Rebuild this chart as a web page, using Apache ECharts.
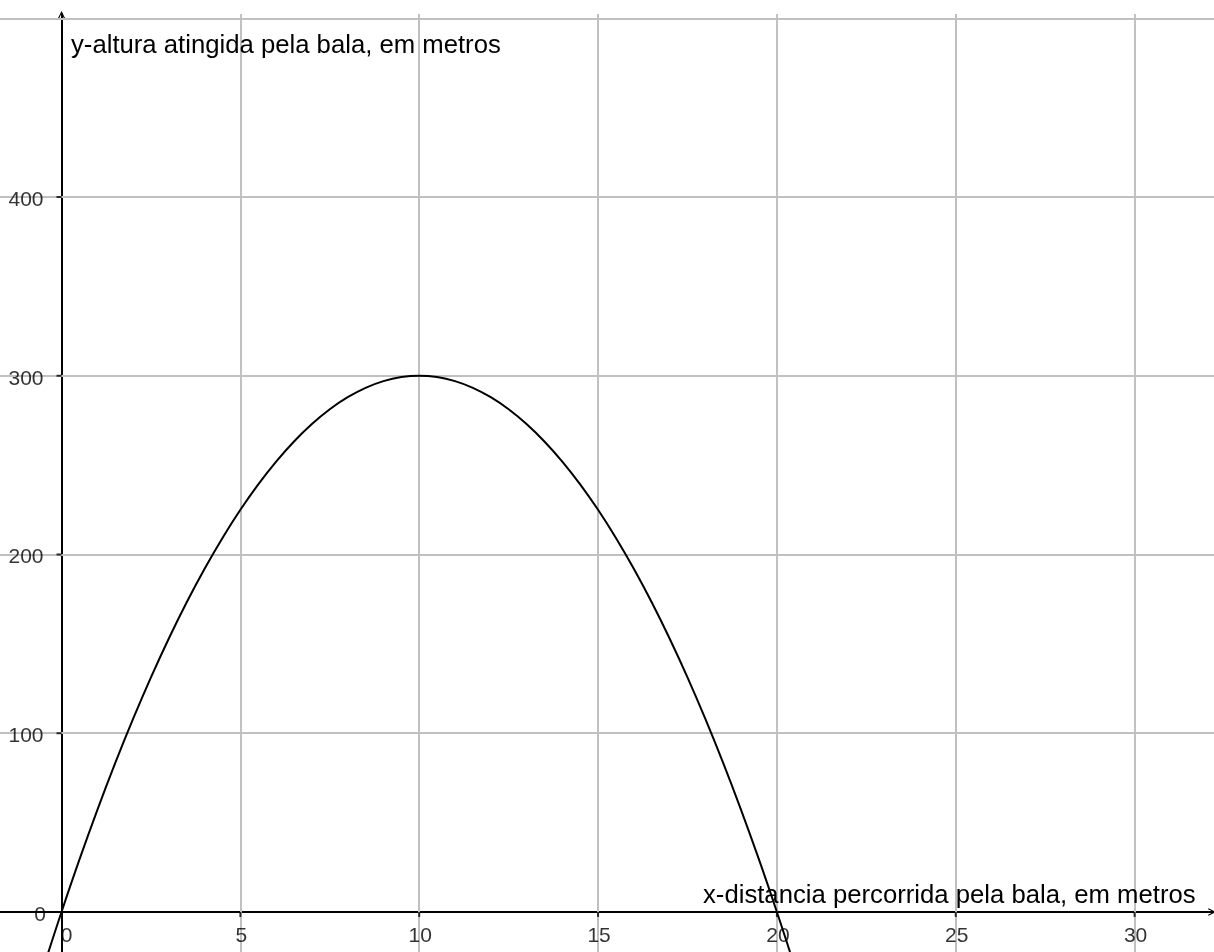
<!DOCTYPE html>
<html>
<head>
<meta charset="utf-8">
<script src="https://cdn.jsdelivr.net/npm/echarts@6/dist/echarts.min.js"></script>
<style>html,body{margin:0;padding:0;background:#fff}#c{width:1214px;height:952px}</style>
</head>
<body>
<div id="c"></div>
<script>
// Data
const xValues = [-0.4, 0, 0.5, 1, 1.5, 2, 2.5, 3, 3.5, 4, 4.5, 5, 5.5, 6, 6.5, 7, 7.5, 8, 8.5, 9, 9.5, 10,
  10.5, 11, 11.5, 12, 12.5, 13, 13.5, 14, 14.5, 15, 15.5, 16, 16.5, 17, 17.5, 18, 18.5, 19, 19.5, 20, 20.4];
const yValues = [-24.5, 0, 29.25, 57, 83.25, 108, 131.25, 153, 173.25, 192, 209.25, 225, 239.25, 252, 263.25, 273, 281.25, 288, 293.25, 297, 299.25, 300,
  299.25, 297, 293.25, 288, 281.25, 273, 263.25, 252, 239.25, 225, 209.25, 192, 173.25, 153, 131.25, 108, 83.25, 57, 29.25, 0, -24.5];
const xTicks = [0, 5, 10, 15, 20, 25, 30];
const yTicks = [0, 100, 200, 300, 400];
const xGrid = [5, 10, 15, 20, 25, 30];
const yGrid = [100, 200, 300, 400, 500];
const xLabelText = 'x-distancia percorrida pela bala, em metros';
const yLabelText = 'y-altura atingida pela bala, em metros';

const FONT = '"Liberation Sans", Arial, sans-serif';
const chart = echarts.init(document.getElementById('c'), null, {renderer: 'canvas'});
const curve = xValues.map((x, i) => [x, yValues[i]]);
const gridLineStyle = {color: '#c0c0c0', width: 2, type: 'solid'};
const chevron = 'path://M0,10 L5,0 L10,10 L8.6,10.8 L5,3.2 L1.4,10.8 Z';

chart.setOption({
  animation: false,
  backgroundColor: '#fff',
  grid: {left: 0, right: 0, top: 14, bottom: 0, containLabel: false, outerBoundsMode: 'none'},
  xAxis: {
    type: 'value', min: -1.72, max: 32.22,
    axisLine: {onZero: true, lineStyle: {color: '#000', width: 2}, symbol: ['none', chevron], symbolSize: [10, 8], symbolOffset: [0, -2]},
    axisTick: {show: false},
    axisLabel: {show: false},
    splitLine: {show: false}
  },
  yAxis: {
    type: 'value', min: -22.4, max: 502.4,
    axisLine: {onZero: true, lineStyle: {color: '#000', width: 2}, symbol: ['none', chevron], symbolSize: [10, 8], symbolOffset: [0, -1]},
    axisTick: {show: false},
    axisLabel: {show: false},
    splitLine: {show: false}
  },
  graphic: [
    {type: 'text', left: 71, top: 33, style: {text: yLabelText, fill: '#000', font: '25.7px ' + FONT}, z: 10},
    {type: 'text', left: 703, top: 883, style: {text: xLabelText, fill: '#000', font: '25.7px ' + FONT}, z: 10}
  ],
  series: [
    {
      type: 'line', data: [], silent: true, z: 1,
      markLine: {
        silent: true, symbol: ['none', 'none'], label: {show: false}, lineStyle: gridLineStyle, animation: false,
        data: xGrid.map(v => ({xAxis: v})).concat(yGrid.map(v => ({yAxis: v})))
      }
    },
    {
      // x ticks + labels
      type: 'scatter', silent: true, z: 6,
      symbol: 'rect', symbolSize: [2, 5], symbolOffset: [0, 2.5],
      itemStyle: {color: '#000'},
      data: xTicks.map(v => ({
        value: [v, 0],
        label: v === 0 ? {offset: [5, 1]} : {offset: [1, 1]}
      })),
      label: {show: true, position: 'bottom', distance: 8, color: '#000', fontFamily: FONT, fontSize: 21,
        formatter: p => String(p.value[0])}
    },
    {
      // y ticks + labels
      type: 'scatter', silent: true, z: 6,
      symbol: 'rect', symbolSize: [5, 2], symbolOffset: [-2.5, 0],
      itemStyle: {color: '#000'},
      data: yTicks.map(v => ({value: [0, v], symbolSize: v === 0 ? 0 : [5, 2]})),
      label: {show: true, position: 'left', distance: 13, offset: [0, 3], color: '#000', fontFamily: FONT, fontSize: 21,
        formatter: p => String(p.value[1])}
    },
    {
      type: 'line', data: curve, smooth: 0.4, showSymbol: false, symbol: 'none', z: 5,
      lineStyle: {color: '#000', width: 2}
    }
  ]
});
</script>
</body>
</html>
